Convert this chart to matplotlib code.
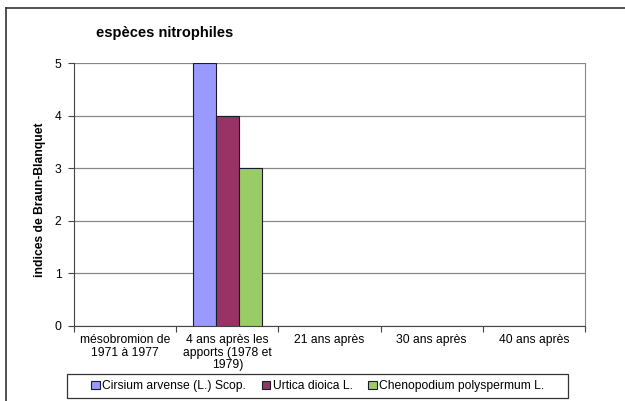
import matplotlib
matplotlib.use("Agg")
import matplotlib.pyplot as plt
from matplotlib.lines import Line2D
from matplotlib.patches import Patch, Rectangle
import numpy as np

plt.rcParams['font.family'] = ['Liberation Sans', 'DejaVu Sans']

categories = ["mésobromion de\n1971 à 1977", "4 ans après les\napports (1978 et\n1979)",
              "21 ans après", "30 ans après", "40 ans après"]
series_names = ["Cirsium arvense (L.) Scop.", "Urtica dioica L.", "Chenopodium polyspermum L."]
cirsium = [0, 5, 0, 0, 0]
urtica = [0, 4, 0, 0, 0]
chenopodium = [0, 3, 0, 0, 0]
colors = ["#9999FF", "#993366", "#99CC66"]

fig = plt.figure(figsize=(6.25, 4.01), dpi=100)
W, H = 625, 401
ax = fig.add_axes([74 / W, 1 - 326 / H, (585 - 74) / W, (326 - 63) / H])

centers = np.arange(len(categories)) + 0.5
bw = 0.225
for i, (vals, col) in enumerate(zip([cirsium, urtica, chenopodium], colors)):
    lws = [0.8 if v > 0 else 0 for v in vals]
    ax.bar(centers + (i - 1) * bw, vals, width=bw, color=col, edgecolor="#1a1a2e",
           linewidth=lws, zorder=3)

ax.set_xlim(0, len(categories))
ax.set_ylim(0, 5)
ax.set_yticks(range(0, 6))
ax.set_yticklabels([str(v) for v in range(0, 6)], fontsize=8.7)
ax.set_xticks(np.arange(len(categories) + 1), minor=False)
ax.set_xticklabels([])
ax.set_xticks(centers, minor=True)
ax.set_xticklabels(categories, minor=True, fontsize=8.7, linespacing=1.05)
ax.tick_params(axis='x', which='minor', length=0, pad=6)
ax.tick_params(axis='x', which='major', length=4, direction='out', color='#444444')
ax.tick_params(axis='y', length=4, direction='out', color='#444444', pad=5)
ax.yaxis.grid(True, color='#888888', linewidth=0.9, zorder=0)
ax.set_axisbelow(True)
ax.spines['top'].set_visible(False)
ax.spines['right'].set_color('#888888')
ax.spines['left'].set_color('#444444')
ax.spines['bottom'].set_color('#444444')

ax.set_ylabel("indices de Braun-Blanquet", fontsize=8.7, fontweight='bold')
ax.yaxis.set_label_coords((46 - 74) / (585 - 74), (326 - 200) / (326 - 63))

fig.text(96 / W, 1 - 33 / H, "espèces nitrophiles", fontsize=10.5, fontweight='bold',
         ha='left', va='center')

handles = [Patch(facecolor=c, edgecolor='#1a1a2e', linewidth=0.8) for c in colors]
leg = fig.legend(handles, series_names, loc='center', bbox_to_anchor=(318 / W, 1 - 386 / H),
                 ncol=3, fontsize=8.7, frameon=False, handlelength=0.7,
                 handleheight=0.7, handletextpad=0.2, columnspacing=1.3, borderpad=0.2)
fig.add_artist(Rectangle((67 / W, 1 - 398 / H), (568 - 67) / W, (398 - 374) / H,
                         transform=fig.transFigure, fill=False, edgecolor='#333333', linewidth=0.9))

fig.add_artist(Line2D([6 / W, 6 / W], [0, 1 - 8 / H], transform=fig.transFigure, color='#333333', linewidth=1.2))
fig.add_artist(Line2D([6 / W, 1], [1 - 8 / H, 1 - 8 / H], transform=fig.transFigure, color='#333333', linewidth=1.2))

fig.savefig("out.png", dpi=100)
